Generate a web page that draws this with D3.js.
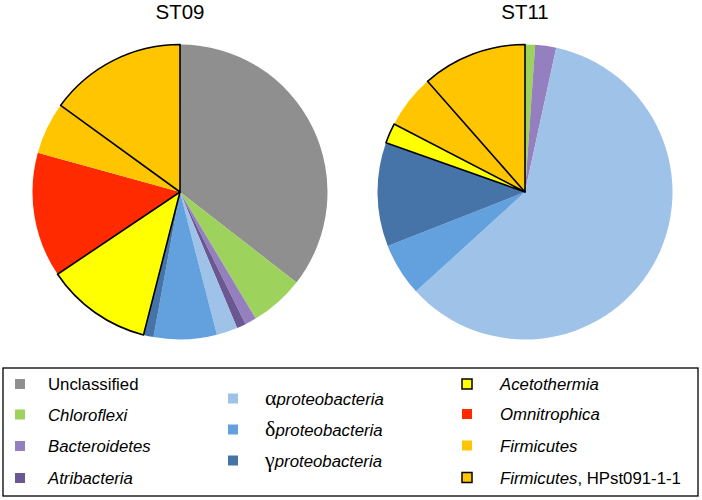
<!DOCTYPE html>
<html><head><meta charset="utf-8">
<script src="https://cdn.jsdelivr.net/npm/d3@7/dist/d3.min.js"></script>
<style>body{margin:0;background:#fff}svg{display:block}</style>
</head><body>
<script>
// Data
const categories = ["Unclassified","Chloroflexi","Bacteroidetes","Atribacteria","alpha","delta","gamma","Acetothermia","Omnitrophica","Firmicutes","Firmicutes HPst091-1-1"];
const colors = ["#8f8f8f","#9dd35c","#9580bf","#6b5792","#9fc2e8","#62a0de","#4674a8","#ffff00","#ff2a00","#ffc600","#ffc600"];
const outlined = [false,false,false,false,false,false,false,true,false,false,true];
const sampleNames = ["ST09","ST11"];
const st09 = [35.5,5.9,1.25,1.0,2.3,6.9,1.1,11.6,13.7,5.7,15.0];
const st11 = [0,1.1,2.3,0,59.9,5.8,11.4,2.2,0,5.9,11.5];

const W=702,H=500;
const svg=d3.select("body").append("svg").attr("width",W).attr("height",H);
const font="'Liberation Sans', Arial, sans-serif";

const centers=[[180,192],[525,192]];
const R=147.5;
const pie=d3.pie().sort(null).value(d=>d.v);
const arc=d3.arc().innerRadius(0).outerRadius(R);

[st09,st11].forEach((vals,k)=>{
  const g=svg.append("g").attr("transform",`translate(${centers[k][0]},${centers[k][1]})`);
  const arcs=pie(vals.map((v,i)=>({v,i})));
  const order=arcs.slice().sort((a,b)=>(outlined[a.data.i]?1:0)-(outlined[b.data.i]?1:0));
  g.selectAll("path").data(order.filter(d=>d.data.v>0)).enter().append("path")
    .attr("d",arc)
    .attr("fill",d=>colors[d.data.i])
    .attr("stroke",d=>outlined[d.data.i]?"#000":"none")
    .attr("stroke-width",d=>outlined[d.data.i]?1.6:0)
    .attr("stroke-linejoin","round");
  svg.append("text").attr("x",centers[k][0]).attr("y",19)
    .attr("text-anchor","middle").attr("font-family",font).attr("font-size",20.5)
    .attr("fill","#000").text(sampleNames[k]);
});

// Legend
svg.append("rect").attr("x",3).attr("y",368).attr("width",695).attr("height",128)
  .attr("fill","none").attr("stroke","#000").attr("stroke-width",1.3);

const legendItems=[
  {i:0,col:0,row:0,parts:[["Unclassified","normal","sans"]]},
  {i:1,col:0,row:1,parts:[["Chloroflexi","italic","sans"]]},
  {i:2,col:0,row:2,parts:[["Bacteroidetes","italic","sans"]]},
  {i:3,col:0,row:3,parts:[["Atribacteria","italic","sans"]]},
  {i:4,col:1,row:0,parts:[["α","normal","serif"],["proteobacteria","italic","sans"]]},
  {i:5,col:1,row:1,parts:[["δ","normal","serif"],["proteobacteria","italic","sans"]]},
  {i:6,col:1,row:2,parts:[["γ","normal","serif"],["proteobacteria","italic","sans"]]},
  {i:7,col:2,row:0,parts:[["Acetothermia","italic","sans"]]},
  {i:8,col:2,row:1,parts:[["Omnitrophica","italic","sans"]]},
  {i:9,col:2,row:2,parts:[["Firmicutes","italic","sans"]]},
  {i:10,col:2,row:3,parts:[["Firmicutes",'italic',"sans"],[", HPst091-1-1","normal","sans"]]}
];
const colX=[{m:15,t:48},{m:228,t:265},{m:462,t:500}];
const rowY=[[384,414.5,446,478],[398.5,429.5,460.5],[384,414,445.5,477.5]];
legendItems.forEach(it=>{
  const cy=rowY[it.col][it.row];
  svg.append("rect").attr("x",colX[it.col].m).attr("y",cy-5).attr("width",10).attr("height",10)
    .attr("fill",colors[it.i])
    .attr("stroke",outlined[it.i]?"#000":"none").attr("stroke-width",outlined[it.i]?1.5:0);
  const t=svg.append("text").attr("x",colX[it.col].t).attr("y",cy+6)
    .attr("font-size",17).attr("fill","#000");
  it.parts.forEach(p=>{
    t.append("tspan").attr("font-style",p[1])
      .attr("font-family",p[2]==="serif"?"'Liberation Serif','Times New Roman',serif":font)
      .attr("font-size",p[2]==="serif"?22:16.8)
      .text(p[0]);
  });
});
</script>
</body></html>
